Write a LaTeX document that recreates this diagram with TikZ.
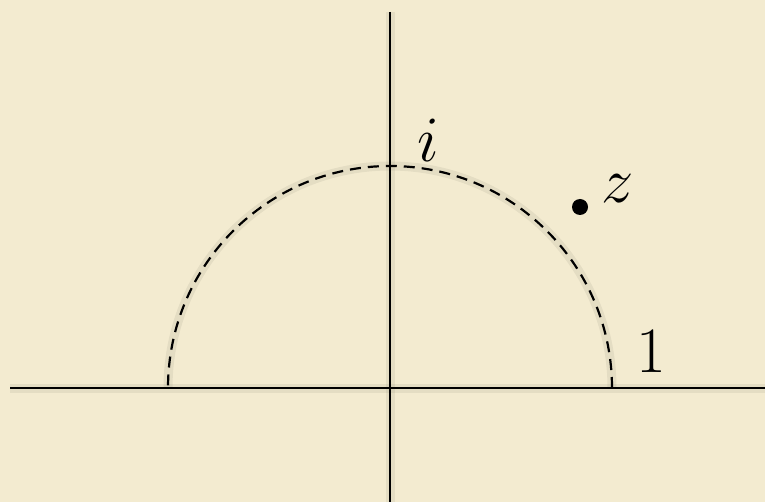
\documentclass[tikz,border=0pt]{standalone}
\usepackage{graphicx}
\usetikzlibrary{calc}
\definecolor{parch}{HTML}{F3EBD0}
\newcommand{\biglbl}[1]{\scalebox{2.6}{\Huge$#1$}}
\tikzset{
  axis/.style={line width=2.2pt, black},
  arcline/.style={line width=2.2pt, black, dash pattern=on 11pt off 7pt},
  shadowline/.style={line width=9pt, black, opacity=0.06},
  lbl/.style={inner sep=0pt},
  pt/.style={circle, fill=black, minimum size=16pt, inner sep=0pt}
}
\begin{document}
\begin{tikzpicture}[x=1pt,y=-1pt]
\fill[parch] (0,0) rectangle (765,502);
\useasboundingbox (0,0) rectangle (765,502);
\coordinate (O) at (390,388);
\coordinate (xl) at (10,388);
\coordinate (xr) at (765,388);
\coordinate (yt) at (390,12);
\coordinate (yb) at (390,502);
\coordinate (A) at (612,388);
% soft shadows
\begin{scope}[shift={(5,7)}]
\draw[shadowline] (xl) -- (xr);
\draw[shadowline] (yt) -- (yb);
\draw[shadowline] (A) arc[start angle=0, end angle=-180, radius=222];
\end{scope}
\draw[axis] (xl) -- (xr);
\draw[axis] (yt) -- (yb);
\draw[arcline] (A) arc[start angle=0, end angle=-180, radius=222];
\node[pt] (z) at (580,207) {};
\node[lbl] (zl) at (618,189) {\biglbl{z}};
\node[lbl] (il) at (428,140) {\biglbl{i}};
\node[lbl] (one) at (651,352) {\biglbl{1}};
\end{tikzpicture}
\end{document}
